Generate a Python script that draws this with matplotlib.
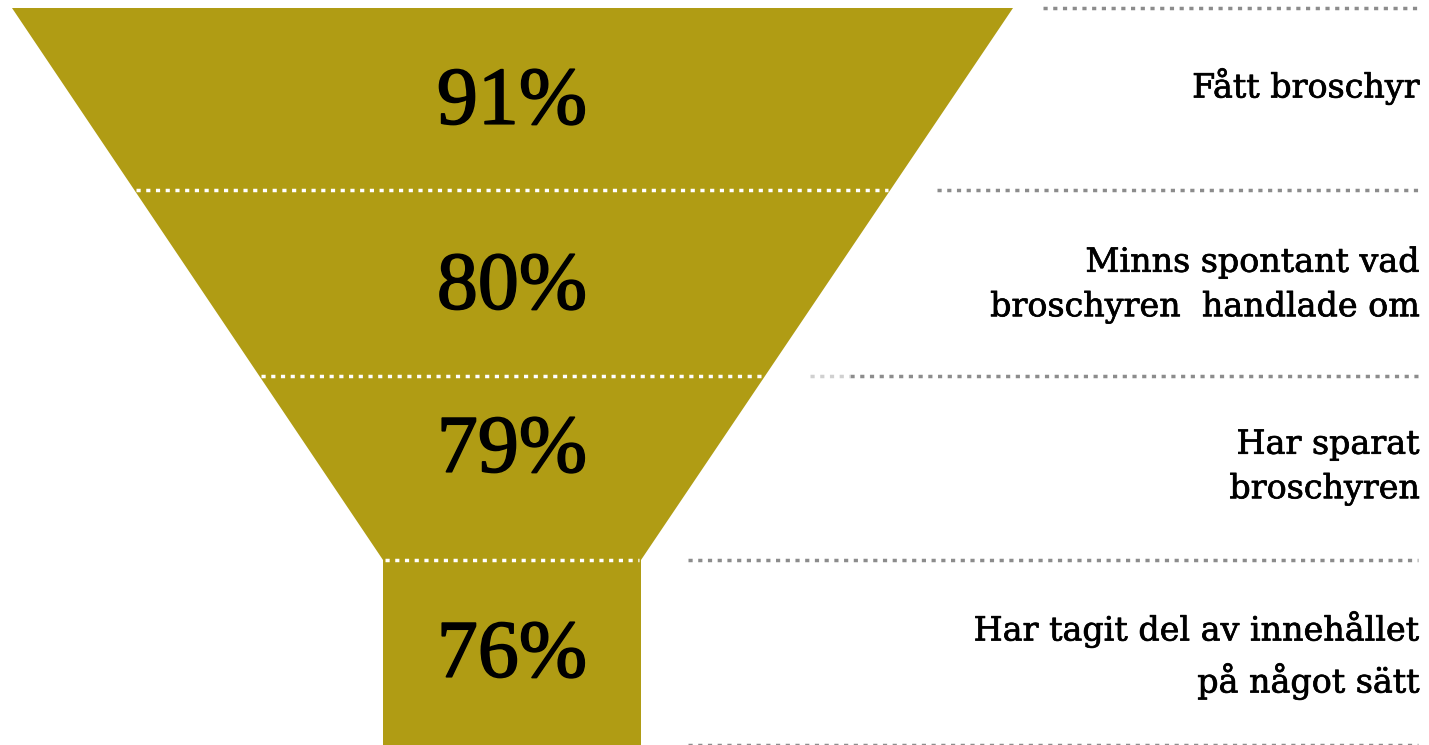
import matplotlib.pyplot as plt
from matplotlib.patches import Polygon
import matplotlib.patheffects as pe

# data
values = [91, 80, 79, 76]
labels = ['Fått broschyr',
          'Minns spontant vad\nbroschyren  handlade om',
          'Har sparat\nbroschyren',
          'Har tagit del av innehållet\npå något sätt']

gold = '#b09c14'
grey = '#8c8c8c'

W, H = 1429, 745
fig = plt.figure(figsize=(W / 100, H / 100), dpi=100)
ax = fig.add_axes([0, 0, 1, 1])
ax.set_xlim(0, W)
ax.set_ylim(H, 0)
ax.axis('off')

# funnel shape: trapezoid + stem
top, neck, bottom = 8, 560, 745
ax.add_patch(Polygon([(12, top), (1013, top), (641, neck), (641, bottom),
                      (383, bottom), (383, neck)], closed=True,
                     facecolor=gold, edgecolor='none'))

bounds = [8, 190, 376, 560, 745]


def edge_x(y):
    if y >= neck:
        return 383, 641
    f = (y - top) / (neck - top)
    return 12 + f * (383 - 12), 1013 + f * (641 - 1013)


dots = (0, (1.2, 1.6))

# white separators inside the funnel
for y in bounds[1:4]:
    l, r = edge_x(y)
    ax.plot([l + 2, r - 2], [y, y], color='white', lw=2.5, ls=dots,
            dash_capstyle='butt')

# grey dotted guides on the right
grey_starts = [1043, 937, 850, 688, 688]
for y, x0 in zip(bounds, grey_starts):
    ax.plot([x0, 1418], [y, y], color=grey, lw=2.5, ls=dots,
            dash_capstyle='butt')
ax.plot([810, 850], [376, 376], color='#d0d0d0', lw=2.5, ls=dots,
        dash_capstyle='butt')

num_font = ['Liberation Serif', 'DejaVu Serif']
lab_font = ['DejaVu Serif']
centers = [104, 289, 452, 657]
label_y = [86, 285, 467, 655]
thick = [pe.withStroke(linewidth=1.2, foreground='black')]
thin = [pe.withStroke(linewidth=0.5, foreground='black')]
for v, lab, yc, yl in zip(values, labels, centers, label_y):
    ax.text(512, yc, f'{v}%', ha='center', va='center', fontsize=59,
            family=num_font, color='black', path_effects=thick)
    ax.text(1420, yl, lab, ha='right', va='center', fontsize=24,
            family=lab_font, color='black', linespacing=1.5,
            path_effects=thin)

fig.savefig('out.png', dpi=100)
